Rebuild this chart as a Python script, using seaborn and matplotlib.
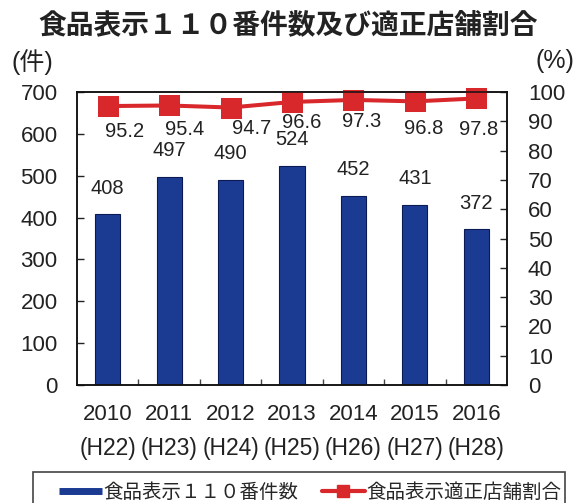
import matplotlib
matplotlib.use("Agg")
import matplotlib.pyplot as plt
import seaborn as sns
import pandas as pd
from matplotlib.lines import Line2D
from matplotlib.patches import Rectangle

years = ["2010", "2011", "2012", "2013", "2014", "2015", "2016"]
eras = ["(H22)", "(H23)", "(H24)", "(H25)", "(H26)", "(H27)", "(H28)"]
counts = [408, 497, 490, 524, 452, 431, 372]
rates = [95.2, 95.4, 94.7, 96.6, 97.3, 96.8, 97.8]
title = "食品表示１１０番件数及び適正店舗割合"
bar_label = "食品表示１１０番件数"
line_label = "食品表示適正店舗割合"

# label offsets (pixels) of the percentage labels relative to their markers
pct_dx = [17, 15, 21, 10, 8, 9, 2]
pct_dy = [-25, -24.5, -20.5, -21, -22, -27.6, -31.4]

sns.set_theme(style="white")
plt.rcParams['font.family'] = ['Liberation Sans', 'Noto Sans CJK JP']
CJK = ['Noto Sans CJK JP', 'DejaVu Sans']
txt = "#222222"

df = pd.DataFrame({"year": years, "count": counts, "rate": rates})

W, H = 579, 503
fig = plt.figure(figsize=(5.79, 5.03), dpi=100)
ax = fig.add_axes([77 / W, 1 - 385 / H, 430 / W, 293 / H])
blue = "#1b3b93"
red = "#d8282c"
sns.barplot(data=df, x="year", y="count", color=blue, width=0.41,
            edgecolor="#0b1a55", linewidth=0.8, saturation=1, ax=ax)
ax.set_xlim(-0.5, len(years) - 0.5)
ax.set_ylim(0, 700)
ax.set_yticks(range(0, 701, 100))
ax.set_xlabel("")
ax.set_ylabel("")
ax.tick_params(axis="y", labelsize=16, direction="in", length=5, width=1,
               left=True, pad=14, colors=txt)
ax.tick_params(axis="x", labelsize=16, length=0, pad=14, colors=txt)
ax.set_xticks([i + 0.5 for i in range(len(years) - 1)], minor=True)
ax.tick_params(axis="x", which="minor", direction="in", length=4, width=1,
               bottom=True, color="#444444")
for i, e in enumerate(eras):
    ax.annotate(e, (i, 0), xycoords=("data", "axes fraction"),
                xytext=(0, -63 * 0.72), textcoords="offset points",
                ha="center", va="center", fontsize=16.5, color=txt)
for i, v in enumerate(counts):
    ax.annotate(str(v), (i, v), xytext=(0, 26 * 0.72), textcoords="offset points",
                ha="center", va="center", fontsize=14.5, color=txt)

ax2 = ax.twinx()
sns.pointplot(data=df, x="year", y="rate", color=red, markers="s",
              linestyles="-", errorbar=None, ax=ax2, markersize=13.5,
              linewidth=2.9)
for ln in ax2.lines:
    ln.set_clip_on(False)
for c in ax2.collections:
    c.set_clip_on(False)
ax2.set_xlim(-0.5, len(years) - 0.5)
ax2.set_ylim(0, 100)
ax2.set_yticks(range(0, 101, 10))
ax2.set_ylabel("")
ax2.set_xlabel("")
ax2.tick_params(axis="y", labelsize=16, direction="in", length=5, width=1,
                right=True, pad=15, colors=txt)
for i, v in enumerate(rates):
    ax2.annotate(f"{v}", (i, v), xytext=(pct_dx[i] * 0.72, pct_dy[i] * 0.72),
                 textcoords="offset points",
                 ha="center", va="center", fontsize=14.5, color=txt)

for a in (ax, ax2):
    for s in a.spines.values():
        s.set_color("#111111")
        s.set_linewidth(1.1)

fig.text(288.5 / W, 1 - 25 / H, title, ha="center", va="center", fontsize=20,
         fontweight="bold", color=txt, family=CJK)
fig.text(32 / W, 1 - 62 / H, "(件)", ha="center", va="center", fontsize=18, color=txt)
fig.text(555 / W, 1 - 61 / H, "(%)", ha="center", va="center", fontsize=18, color=txt)

handles = [Line2D([0], [0], color=blue, linewidth=5, solid_capstyle="butt"),
           Line2D([0], [0], color=red, linewidth=3, marker="s", markersize=8.5)]
leg = fig.legend(handles, [bar_label, line_label], loc="center left",
                 bbox_to_anchor=(59 / W, 1 - 492 / H), ncol=2,
                 prop={"family": CJK, "size": 14},
                 frameon=False, handlelength=2.2, handletextpad=0.1,
                 columnspacing=1.2, borderpad=0, borderaxespad=0)
fig.add_artist(Rectangle((33 / W, -0.05), (565 - 33) / W, 0.05 + (1 - 472 / H),
                         transform=fig.transFigure, fill=False,
                         edgecolor="#444444", linewidth=1.2, clip_on=False))

fig.savefig("out.png", dpi=100)
